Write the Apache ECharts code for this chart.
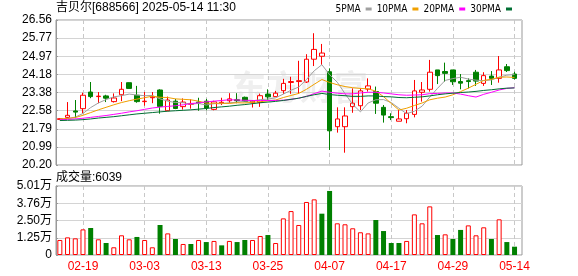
<!DOCTYPE html>
<html><head><meta charset="utf-8">
<script src="https://cdn.jsdelivr.net/npm/echarts@6/dist/echarts.min.js"></script>
<style>html,body{margin:0;padding:0;background:#fff}#c{width:578px;height:276px}</style>
</head><body><div id="c"></div>
<script>
const dates = ['02-14','02-17','02-18','02-19','02-20','02-21','02-24','02-25','02-26','02-27','02-28',
'03-03','03-04','03-05','03-06','03-07','03-10','03-11','03-12','03-13','03-14','03-17','03-18','03-19','03-20','03-21','03-24','03-25','03-26','03-27','03-28','03-31',
'04-01','04-02','04-03','04-07','04-08','04-09','04-10','04-11','04-14','04-15','04-16','04-17','04-18','04-21','04-22','04-23','04-24','04-25','04-28','04-29','04-30',
'05-06','05-07','05-08','05-09','05-12','05-13','05-14'];
const opens = [22.20,22.29,22.57,22.67,23.40,23.20,23.23,22.98,23.28,23.81,
23.26,22.98,23.15,23.49,22.58,23.00,22.76,22.86,22.96,23.00,
22.64,22.92,23.02,23.06,23.17,22.93,22.95,23.31,23.20,23.46,
23.82,23.86,23.84,24.84,24.97,24.29,21.88,21.88,22.76,22.80,
23.53,23.42,22.73,22.32,22.12,22.23,22.42,23.39,23.52,24.37,
24.30,24.37,23.86,23.90,24.27,23.78,24.10,24.00,24.51,24.19];
const closes = [22.23,22.38,22.52,23.26,23.20,23.22,23.13,23.14,23.52,23.56,
22.98,23.00,23.18,22.77,23.05,22.68,22.96,22.90,22.92,22.70,
22.97,22.95,23.10,23.02,22.98,23.00,23.24,23.19,23.35,23.78,
23.86,23.90,24.84,25.27,25.11,21.70,22.22,22.35,22.91,23.45,
23.67,22.91,22.39,22.28,22.22,22.47,23.45,23.49,24.27,24.12,
24.22,23.85,23.79,23.86,23.88,24.12,24.00,24.37,24.34,24.00];
const lows = [22.18,22.27,22.25,22.47,23.13,22.91,22.96,22.94,23.00,23.55,
22.93,22.80,22.91,22.45,22.56,22.65,22.63,22.67,22.58,22.60,
22.60,22.83,22.91,22.91,22.96,22.72,22.75,23.05,23.19,23.32,
23.32,23.32,23.80,24.54,24.59,20.86,21.62,20.74,22.49,22.61,
23.42,22.44,22.06,22.17,22.12,22.03,22.29,22.98,23.42,23.75,
23.85,23.71,23.52,23.56,23.67,23.67,23.71,23.81,24.28,23.95];
const highs = [22.25,22.96,23.05,23.37,23.84,23.40,23.28,23.34,23.84,23.82,
23.67,23.40,23.40,23.52,23.20,23.10,23.12,23.08,23.15,23.10,
23.02,23.15,23.35,23.35,23.20,23.05,23.33,23.52,23.45,23.98,
24.07,24.77,25.06,25.98,25.51,24.44,22.73,22.73,23.56,23.56,
24.00,23.64,22.83,22.47,22.61,22.61,23.93,23.84,24.81,24.37,
24.69,24.37,24.19,24.00,24.37,24.27,24.32,24.98,24.63,24.29];
const volumes = [10900,12800,12100,18600,19600,11400,8700,5600,14300,11400,
13100,10900,5600,21800,15700,11600,8000,8000,10900,9400,
10200,7000,10200,9400,10900,10900,13800,14500,8700,26600,
31900,21800,38500,40400,30000,46500,23000,22300,19400,16500,
15700,25400,17400,8700,8700,10200,29500,23000,35300,14500,
15000,11600,18200,21500,14300,20100,11600,25900,9400,6039];
const ma5 = [22.20,22.24,22.30,22.46,22.72,22.92,23.07,23.19,23.24,23.31,
23.27,23.24,23.25,23.10,23.00,22.94,22.93,22.87,22.90,22.83,
22.89,22.89,22.93,22.95,23.00,23.01,23.07,23.09,23.15,23.31,
23.48,23.62,23.95,24.33,24.60,24.16,23.83,23.33,22.86,22.53,
22.92,23.06,23.07,22.94,22.69,22.45,22.56,22.78,23.18,23.56,
23.91,23.99,24.05,23.97,23.92,23.90,23.93,24.05,24.14,24.17];
const ma10 = [22.22,22.24,22.28,22.38,22.50,22.62,22.73,22.84,22.94,23.02,
23.09,23.15,23.22,23.17,23.16,23.10,23.08,23.06,23.00,22.91,
22.91,22.91,22.90,22.93,22.92,22.95,22.98,23.01,23.05,23.16,
23.25,23.34,23.52,23.74,23.95,23.82,23.72,23.64,23.59,23.56,
23.54,23.44,23.20,22.90,22.61,22.69,22.81,22.92,23.06,23.13,
23.18,23.28,23.42,23.57,23.74,23.91,23.96,24.05,24.06,24.04];
const ma20 = [22.18,22.20,22.22,22.25,22.29,22.33,22.37,22.42,22.47,22.53,
22.58,22.64,22.70,22.74,22.77,22.80,22.84,22.89,22.93,22.97,
23.00,23.03,23.06,23.05,23.04,23.03,23.03,23.03,23.03,23.04,
23.08,23.13,23.21,23.33,23.44,23.39,23.35,23.32,23.32,23.36,
23.39,23.39,23.36,23.32,23.28,23.26,23.27,23.28,23.33,23.34,
23.36,23.36,23.31,23.24,23.18,23.30,23.39,23.49,23.56,23.59];
const ma30 = [22.15,22.16,22.17,22.19,22.22,22.26,22.29,22.32,22.36,22.40,
22.44,22.47,22.50,22.53,22.56,22.58,22.60,22.62,22.65,22.68,
22.72,22.75,22.78,22.82,22.85,22.89,22.93,22.96,22.99,23.03,
23.08,23.13,23.21,23.28,23.34,23.29,23.26,23.24,23.21,23.21,
23.23,23.23,23.20,23.19,23.16,23.15,23.17,23.19,23.23,23.28,
23.32,23.35,23.38,23.40,23.43,23.47,23.50,23.54,23.57,23.58];
const priceTicks = ['20.20','20.99','21.79','22.58','23.38','24.18','24.97','25.77','26.56'];
const volTicks = ['0','1.25万','2.50万','3.76万','5.01万'];
const priceMin = 20.20, priceMax = 26.56, volMax = 50100;
const maNames = ['5PMA','10PMA','20PMA','30PMA'];
const maColors = ['#a0a0a0','#f0a000','#ff00ff','#006f33'];
const maData = [ma5, ma10, ma20, ma30];

const FONT = '"Liberation Sans", "Noto Sans CJK SC", sans-serif';
const NARROW = '"Liberation Sans Narrow", "DejaVu Sans Condensed", "Liberation Sans", sans-serif';
const UP = '#ff0000', DOWN = '#008000';
const labelEvery = (i) => (i - 3) % 8 === 0;

const chart = echarts.init(document.getElementById('c'), null, {renderer: 'canvas'});
const volData = volumes.map((v, i) => {
  const up = i === 0 ? closes[i] >= opens[i] : closes[i] >= closes[i - 1];
  return { value: v, itemStyle: up ? { color: '#fff', borderColor: UP, borderWidth: 1 } : { color: DOWN, borderColor: DOWN, borderWidth: 0 } };
});
const vDash = { show: true, interval: labelEvery, alignWithLabel: true, lineStyle: { color: '#c8c8c8', type: [4, 3], width: 1 } };
const hSolid = { show: true, lineStyle: { color: '#d4d4d4', width: 1 } };

chart.setOption({
  animation: false,
  backgroundColor: '#fff',
  title: [
    { text: '吉贝尔[688566] 2025-05-14 11:30', left: 56, top: 2, padding: 0,
      textStyle: { fontSize: 12, fontWeight: 'normal', color: '#000', fontFamily: FONT } },
    { text: '成交量:' + volumes[volumes.length - 1], left: 56, top: 172, padding: 0,
      textStyle: { fontSize: 12, fontWeight: 'normal', color: '#000', fontFamily: FONT } }
  ],
  legend: {
    data: maNames.map(n => ({ name: n, icon: 'rect' })),
    right: 66, top: 4, align: 'right', itemWidth: 6, itemHeight: 3, itemGap: 5, padding: 0,
    selectedMode: false,
    textStyle: { fontSize: 10, color: '#000', fontFamily: NARROW }
  },
  graphic: [{
    type: 'text', left: 232, top: 70, z: 0, silent: true,
    style: { text: '东方财富', font: 'bold 34px "Noto Sans CJK SC"', fill: '#efefef' }
  }],
  grid: [
    { left: 56, top: 20, width: 462.4, height: 145, show: false },
    { left: 56, top: 186, width: 462.4, height: 69, show: false },
    { left: 56, top: 20, width: 466, height: 145, show: true, borderColor: '#999', borderWidth: 1, backgroundColor: 'transparent' },
    { left: 56, top: 186, width: 466, height: 69, show: true, borderColor: '#999', borderWidth: 1, backgroundColor: 'transparent' }
  ],
  xAxis: [
    { type: 'category', gridIndex: 0, data: dates, boundaryGap: true,
      axisLine: { show: false }, axisTick: { show: false }, axisLabel: { show: false }, splitLine: vDash },
    { type: 'category', gridIndex: 1, data: dates, boundaryGap: true,
      axisLine: { show: false }, axisTick: { show: false },
      axisLabel: { show: true, interval: labelEvery, color: UP, fontSize: 12, fontFamily: FONT, margin: 6 },
      splitLine: vDash },
    { type: 'value', gridIndex: 2, min: 0, max: 1, show: false },
    { type: 'value', gridIndex: 3, min: 0, max: 1, show: false }
  ],
  yAxis: [
    { type: 'value', gridIndex: 0, min: priceMin, max: priceMax, show: false, splitLine: { show: false } },
    { type: 'value', gridIndex: 1, min: 0, max: volMax, show: false, splitLine: { show: false } },
    { type: 'value', gridIndex: 2, min: 0, max: priceTicks.length - 1, interval: 1,
      axisLine: { show: true, lineStyle: { color: '#999' } },
      axisTick: { show: true, inside: true, length: 2, lineStyle: { color: '#999' } },
      axisLabel: { color: '#000', fontSize: 12, fontFamily: FONT, margin: 4, formatter: v => priceTicks[Math.round(v)] },
      splitLine: hSolid },
    { type: 'value', gridIndex: 3, min: 0, max: volTicks.length - 1, interval: 1,
      axisLine: { show: true, lineStyle: { color: '#999' } },
      axisTick: { show: true, inside: true, length: 2, lineStyle: { color: '#999' } },
      axisLabel: { color: '#000', fontSize: 12, fontFamily: FONT, margin: 4, formatter: v => volTicks[Math.round(v)] },
      splitLine: hSolid }
  ],
  series: [
    { type: 'candlestick', xAxisIndex: 0, yAxisIndex: 0, barWidth: 5,
      data: dates.map((d, i) => [opens[i], closes[i], lows[i], highs[i]]),
      itemStyle: { color: '#fff', color0: DOWN, borderColor: UP, borderColor0: DOWN, borderWidth: 1 } },
    ...maNames.map((n, k) => ({
      name: n, type: 'line', xAxisIndex: 0, yAxisIndex: 0, data: maData[k],
      symbol: 'none', showSymbol: false, smooth: false, z: 3,
      itemStyle: { color: maColors[k] },
      lineStyle: { color: maColors[k], width: 1 }
    })),
    { type: 'bar', xAxisIndex: 1, yAxisIndex: 1, barWidth: 5, data: volData }
  ]
});
</script>
</body></html>
